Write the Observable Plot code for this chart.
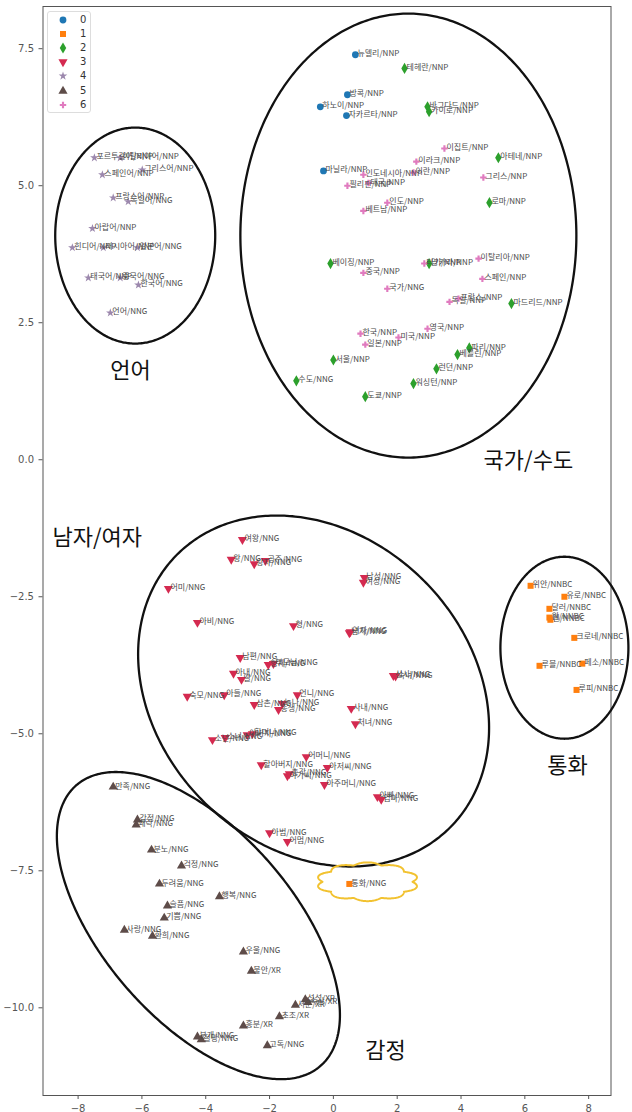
<!DOCTYPE html>
<html><head><meta charset="utf-8">
<script src="https://cdn.jsdelivr.net/npm/d3@7"></script>
<script src="https://cdn.jsdelivr.net/npm/@observablehq/plot@0.6"></script>
<style>
body{margin:0;background:#fff;}
#wrap{position:relative;width:632px;height:1112px;}
#legend{position:absolute;left:47px;top:11px;width:42px;height:100px;border:1px solid #ddd;border-radius:3px;background:rgba(255,255,255,0.85);font:10px "DejaVu Sans",sans-serif;color:#333;}
#legend .row{position:absolute;left:0;height:14px;width:42px;}
#legend svg{position:absolute;left:8px;top:0;}
#legend span{position:absolute;left:32px;top:0;line-height:14px;}
</style>
</head><body><div id="wrap"><div id="legend"></div></div>
<script>
// ---- data ----
const clusterIds = [0,1,2,3,4,5,6];
const clusterColors = ["#1f77b4","#ff7f0e","#2ca02c","#d42a50","#9c88ad","#5e4c49","#e07bbf"];
const clusterSymbols = ["circle","square","diamond","triangle","star","triangle","cross"];
const clusterRotate = [0,0,0,180,0,0,0];

const words = [
 "뉴델리/NNP","방콕/NNP","하노이/NNP","자카르타/NNP","마닐라/NNP",
 "테헤란/NNP","바그다드/NNP","카이로/NNP","아테네/NNP","로마/NNP","베이징/NNP","앙카라/NNP","마드리드/NNP","파리/NNP","베를린/NNP","런던/NNP","워싱턴/NNP","서울/NNP","수도/NNG","도쿄/NNP",
 "이집트/NNP","이라크/NNP","인도네시아/NNP","이란/NNP","그리스/NNP","태국/NNP","필리핀/NNP","인도/NNP","베트남/NNP","이탈리아/NNP","터키/NNP","중국/NNP","국가/NNG","스페인/NNP","독일/NNP","프랑스/NNP","한국/NNP","일본/NNP","미국/NNP","영국/NNP",
 "포르투갈어/NNP","이탈리아어/NNP","그리스어/NNP","스페인어/NNP","프랑스어/NNP","독일어/NNG","아랍어/NNP","힌디어/NNP","러시아어/NNP","일본어/NNG","태국어/NNP","중국어/NNG","한국어/NNG","언어/NNG",
 "여왕/NNG","왕/NNG","공주/NNG","왕자/NNG","어미/NNG","아비/NNG","형/NNG","남편/NNG","형제/NNG","부모님/NNG","아내/NNG","딸/NNG","숙모/NNG","아들/NNG","언니/NNG","삼촌/NNG","누나/NNG","동생/NNG",
 "남성/NNG","여성/NNG","남자/NNG","여자/NNG","신사/NNG","숙녀/NNG","사내/NNG","처녀/NNG","소년/NNG","소녀/NNG","아버지/NNG","할머니/NNG","어머니/NNG","할아버지/NNG","아저씨/NNG","아가씨/NNG","총각/NNG","아주머니/NNG","아빠/NNG","엄마/NNG","아범/NNG","어멈/NNG",
 "위안/NNBC","유로/NNBC","달러/NNBC","엔/NNBC","원/NNBC","크로네/NNBC","루블/NNBC","페소/NNBC","루피/NNBC","통화/NNG",
 "만족/NNG","감정/NNG","쾌락/NNG","분노/NNG","걱정/NNG","두려움/NNG","행복/NNG","슬픔/NNG","기쁨/NNG","사랑/NNG","환희/NNG","우울/NNG","불안/XR","섭섭/XR","서운/XR","속상/XR","초조/XR","흥분/XR","분개/NNG","절망/NNG","고독/NNG"
];
const xs = [
 0.69,0.44,-0.41,0.41,-0.31,
 2.23,2.95,3.0,5.17,4.89,-0.09,3.0,5.58,4.26,3.89,3.23,2.51,0.0,-1.16,1.0,
 3.48,2.6,0.94,2.51,4.7,1.1,0.44,1.69,0.94,4.55,2.85,0.94,1.69,4.67,3.64,3.92,0.85,1.0,2.04,2.95,
 -7.49,-6.68,-5.99,-7.24,-6.9,-6.43,-7.55,-8.18,-7.21,-6.14,-7.68,-6.68,-6.11,-6.99,
 -2.85,-3.2,-2.13,-2.48,-5.17,-4.26,-1.25,-2.92,-2.04,-1.88,-3.13,-2.88,-4.58,-3.42,-1.13,-2.48,-1.6,-1.72,
 0.97,0.94,0.5,0.53,1.88,1.95,0.56,0.69,-3.79,-3.39,-2.7,-2.54,-0.85,-2.26,-0.19,-1.44,-1.38,-0.28,1.38,1.5,-2.0,-1.44,
 6.18,7.24,6.77,6.8,6.77,7.55,6.46,7.8,7.62,0.5,
 -6.9,-6.14,-6.18,-5.7,-4.76,-5.45,-3.57,-5.2,-5.3,-6.55,-5.67,-2.82,-2.57,-0.88,-1.19,-0.8,-1.69,-2.82,-4.26,-4.14,-2.07
];
const ys = [
 7.39,6.66,6.44,6.28,5.27,
 7.14,6.44,6.35,5.51,4.69,3.58,3.58,2.85,2.04,1.92,1.66,1.39,1.82,1.44,1.15,
 5.68,5.44,5.2,5.24,5.15,5.05,5.0,4.69,4.54,3.67,3.58,3.41,3.12,3.3,2.88,2.94,2.3,2.1,2.23,2.39,
 5.51,5.51,5.29,5.2,4.78,4.71,4.22,3.87,3.87,3.87,3.32,3.32,3.19,2.68,
 -1.46,-1.82,-1.84,-1.9,-2.35,-2.97,-3.03,-3.61,-3.74,-3.72,-3.9,-4.01,-4.32,-4.29,-4.29,-4.47,-4.45,-4.56,
 -2.15,-2.24,-3.16,-3.14,-3.94,-3.95,-4.54,-4.82,-5.11,-5.07,-5.02,-5.0,-5.42,-5.57,-5.62,-5.77,-5.73,-5.93,-6.15,-6.2,-6.81,-6.97,
 -2.3,-2.5,-2.72,-2.92,-2.88,-3.25,-3.76,-3.72,-4.2,-7.74,
 -5.97,-6.57,-6.66,-7.12,-7.41,-7.74,-7.97,-8.14,-8.36,-8.58,-8.69,-8.98,-9.33,-9.85,-9.95,-9.9,-10.16,-10.33,-10.53,-10.58,-10.69
];
const groups = [
 0,0,0,0,0,
 2,2,2,2,2,2,2,2,2,2,2,2,2,2,2,
 6,6,6,6,6,6,6,6,6,6,6,6,6,6,6,6,6,6,6,6,
 4,4,4,4,4,4,4,4,4,4,4,4,4,4,
 3,3,3,3,3,3,3,3,3,3,3,3,3,3,3,3,3,3,
 3,3,3,3,3,3,3,3,3,3,3,3,3,3,3,3,3,3,3,3,3,3,
 1,1,1,1,1,1,1,1,1,1,
 5,5,5,5,5,5,5,5,5,5,5,5,5,5,5,5,5,5,5,5,5
];
const xTicks = [-8,-6,-4,-2,0,2,4,6,8];
const yTicks = [7.5,5.0,2.5,0.0,-2.5,-5.0,-7.5,-10.0];

// annotation labels
const noteTexts = ["언어","국가/수도","남자/여자","통화","감정"];
const noteX = [-6.36,6.11,-7.4,7.34,1.63];
const noteY = [1.62,-0.02,-1.42,-5.58,-10.78];

// hand-drawn outlines: center (data), semi-axes (px), rotation (deg), bumpiness
const outlineCx = [-6.21,2.35,-0.62,7.24,-4.23,1.07];
const outlineCy = [4.09,4.09,-4.22,-3.43,-8.5,-7.70];
const outlineA  = [80,168,193,64,186,45];
const outlineB  = [108,222,156,91,95,17];
const outlineRot= [0,0,45,0,49,0];
const outlineBump=[0,0,0,0,0,0.14];

// ---- build ----
const W=632,H=1112,ML=42.5,MR=21.5,MT=6,MB=17;
const xDomain=[-9.1,8.7], yDomain=[-11.6,8.27];
const kx=(W-ML-MR)/(xDomain[1]-xDomain[0]);
const ky=(H-MT-MB)/(yDomain[1]-yDomain[0]);

const points = words.map((w,i)=>({w, x:xs[i], y:ys[i], g:groups[i]}));
const notes = noteTexts.map((t,i)=>({t, x:noteX[i], y:noteY[i]}));

const outlinePts=[];
outlineCx.forEach((cx,k)=>{
  const th=outlineRot[k]*Math.PI/180, n=400;
  for(let i=0;i<=n;i++){
    const t=i/n*2*Math.PI;
    const r = outlineBump[k] ? 1+outlineBump[k]*Math.abs(Math.sin(t*5)) : 1;
    const ex=outlineA[k]*r*Math.cos(t), ey=outlineB[k]*r*Math.sin(t);
    const px=ex*Math.cos(th)-ey*Math.sin(th), py=ex*Math.sin(th)+ey*Math.cos(th);
    outlinePts.push({k, x:cx+px/kx, y:outlineCy[k]-py/ky});
  }
});

const dotMarks = clusterIds.map(c=>Plot.dot(points.filter(p=>p.g===c),{
  x:"x", y:"y", symbol:()=>clusterSymbols[c], fill:clusterColors[c], stroke:"none",
  r: c===4||c===6 ? 2.7 : 3.4, rotate: clusterRotate[c]
}));

const chart = Plot.plot({
  width:W, height:H, marginLeft:ML, marginRight:MR, marginTop:MT, marginBottom:MB,
  style:{fontFamily:"'DejaVu Sans', sans-serif", fontSize:"10px", color:"#555", background:"#fff", overflow:"visible"},
  x:{domain:xDomain, ticks:xTicks, tickFormat:d=>String(d).replace("-","\u2212"), tickSize:4, label:null},
  y:{domain:yDomain, ticks:yTicks, tickFormat:d3.format(".1f"), tickSize:4, label:null},
  symbol:{type:"identity"},
  marks:[
    Plot.frame({stroke:"#555", strokeWidth:1}),
    Plot.line(outlinePts.filter(d=>d.k<5),{x:"x",y:"y",z:"k",stroke:"#111",strokeWidth:2.3}),
    Plot.line(outlinePts.filter(d=>d.k===5),{x:"x",y:"y",z:"k",stroke:"#f2c230",strokeWidth:2}),
    ...dotMarks,
    Plot.text(points,{x:"x",y:"y",text:"w",textAnchor:"start",dx:2,dy:-1,fontSize:8,fill:"#4a4a4a",fontFamily:"'Noto Sans CJK KR', sans-serif"}),
    Plot.text(notes,{x:"x",y:"y",text:"t",fontSize:22,fill:"#111",fontFamily:"'Noto Sans CJK KR', sans-serif"})
  ]
});
document.getElementById("wrap").prepend(chart);

// legend
const lg = document.getElementById("legend");
clusterIds.forEach((c,i)=>{
  const row=document.createElement("div"); row.className="row"; row.style.top=(1+i*14.1)+"px";
  const sym = {circle:d3.symbolCircle,square:d3.symbolSquare,diamond:d3.symbolDiamond,triangle:d3.symbolTriangle,star:d3.symbolStar,cross:d3.symbolCross}[clusterSymbols[c]];
  const rr = (c===4||c===6) ? 2.7 : 3.4;
  const path = d3.symbol(sym, Math.PI*rr*rr)();
  row.innerHTML = `<svg width="14" height="14"><path d="${path}" transform="translate(7,7) rotate(${clusterRotate[c]})" fill="${clusterColors[c]}"/></svg><span>${c}</span>`;
  lg.appendChild(row);
});
</script></body></html>
